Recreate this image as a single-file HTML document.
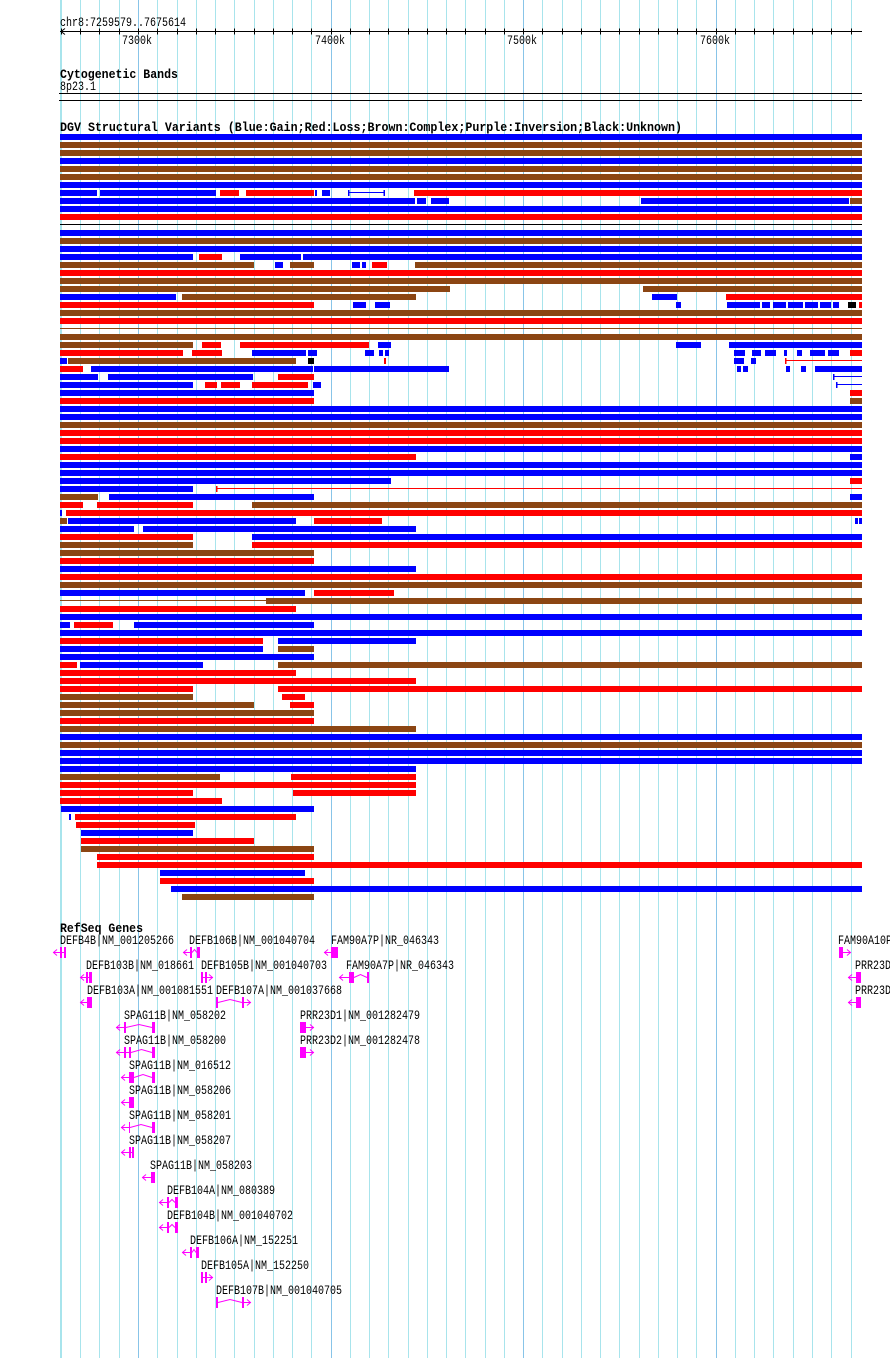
<!DOCTYPE html>
<html><head><meta charset="utf-8"><style>
html,body{margin:0;padding:0;background:#fff;}
svg{display:block;}
text{font-family:"Liberation Mono","DejaVu Sans Mono",monospace;fill:#000;}
</style></head><body>
<svg id="s" width="890" height="1358" xmlns="http://www.w3.org/2000/svg">
<g id="grid"></g>
<g id="ruler">
<text x="60" y="26" font-size="13" textLength="126" lengthAdjust="spacingAndGlyphs">chr8:7259579..7675614</text>
<line x1="60" y1="31.5" x2="862" y2="31.5" stroke="#000" stroke-width="1"/>
<polyline points="65,28.5 61,31.5 65,34.5" fill="none" stroke="#000" stroke-width="1"/>
<text x="122" y="44" font-size="13" textLength="30" lengthAdjust="spacingAndGlyphs">7300k</text>
<text x="315" y="44" font-size="13" textLength="30" lengthAdjust="spacingAndGlyphs">7400k</text>
<text x="507" y="44" font-size="13" textLength="30" lengthAdjust="spacingAndGlyphs">7500k</text>
<text x="700" y="44" font-size="13" textLength="30" lengthAdjust="spacingAndGlyphs">7600k</text>
<text x="60" y="78" font-size="13" font-weight="bold" textLength="118" lengthAdjust="spacingAndGlyphs">Cytogenetic Bands</text>
<text x="60" y="90" font-size="13" textLength="36" lengthAdjust="spacingAndGlyphs">8p23.1</text>
<line x1="59" y1="93.5" x2="862" y2="93.5" stroke="#000"/>
<line x1="59" y1="100.5" x2="862" y2="100.5" stroke="#000"/>
<text x="60" y="131" font-size="13" font-weight="bold" textLength="622" lengthAdjust="spacingAndGlyphs">DGV Structural Variants (Blue:Gain;Red:Loss;Brown:Complex;Purple:Inversion;Black:Unknown)</text>
<text x="60" y="932" font-size="13" font-weight="bold" textLength="83" lengthAdjust="spacingAndGlyphs">RefSeq Genes</text>
</g>
<g id="bars"></g>
<g id="genes"></g>
</svg>
<script>
var NS="http://www.w3.org/2000/svg";
function el(p,t,a){var e=document.createElementNS(NS,t);for(var k in a)e.setAttribute(k,a[k]);p.appendChild(e);return e;}
var grid=document.getElementById('grid');
el(grid,'line',{x1:60.5,y1:0,x2:60.5,y2:1358,stroke:'#a8e4ec'});
for(var k=0;k<=41;k++){var x=Math.round(60.97+19.257*k)+0.5;
 var dark=(k==4||k==14||k==24||k==34);
 el(grid,'line',{x1:x,y1:0,x2:x,y2:1358,stroke:dark?'#88c4e8':'#a8e4ec'});
 el(document.getElementById('ruler'),'line',{x1:x,y1:28.5,x2:x,y2:34.5,stroke:'#000'});}
var C={b:'#0000ff',r:'#ff0000',n:'#8b4513',k:'#000000'};
var F=862;
var rows=[
[[60,F,'b']],[[60,F,'n']],[[60,F,'n']],[[60,F,'b']],[[60,F,'n']],[[60,F,'n']],[[60,F,'b']],
[[60,97,'b'],[100,216,'b'],[220,239,'r'],[246,314,'r'],[315,317,'b'],[322,330,'b'],[348,385,'lb'],[414,F,'r']],
[[60,415,'b'],[417,426,'b'],[431,449,'b'],[641,849,'b'],[850,F,'n']],
[[60,F,'b']],[[60,F,'r']],[[60,F,'lk']],[[60,F,'b']],[[60,F,'n']],[[60,F,'b']],
[[60,193,'b'],[199,222,'r'],[240,301,'b'],[303,F,'b']],
[[60,254,'n'],[275,283,'b'],[290,314,'n'],[352,360,'b'],[362,366,'b'],[372,387,'r'],[415,F,'n']],
[[60,F,'r']],[[60,F,'n']],
[[60,450,'n'],[643,F,'n']],
[[60,176,'b'],[182,416,'n'],[652,677,'b'],[726,F,'r']],
[[60,314,'r'],[353,366,'b'],[375,390,'b'],[676,681,'b'],[727,760,'b'],[762,770,'b'],[773,786,'b'],[788,803,'b'],[805,818,'b'],[820,831,'b'],[833,839,'b'],[848,856,'k'],[859,F,'r']],
[[60,F,'n']],[[60,F,'r']],[[60,F,'ln']],[[60,F,'n']],
[[60,193,'n'],[202,221,'r'],[240,369,'r'],[378,391,'b'],[676,701,'b'],[729,F,'b']],
[[60,183,'r'],[192,222,'r'],[252,306,'b'],[308,317,'b'],[365,374,'b'],[379,383,'b'],[385,389,'b'],[734,745,'b'],[752,761,'b'],[765,776,'b'],[784,787,'b'],[797,802,'b'],[810,825,'b'],[828,839,'b'],[850,F,'r']],
[[60,67,'b'],[68,296,'n'],[308,314,'k'],[384,386,'r'],[734,744,'b'],[751,756,'b'],[785,F,'lr']],
[[60,83,'r'],[91,313,'b'],[314,449,'b'],[737,741,'b'],[743,748,'b'],[786,790,'b'],[801,806,'b'],[815,F,'b']],
[[60,98,'b'],[108,253,'b'],[278,314,'r'],[833,F,'lb']],
[[60,193,'b'],[205,217,'r'],[221,240,'r'],[252,308,'r'],[313,321,'b'],[836,F,'lb']],
[[60,314,'b'],[850,F,'r']],
[[60,314,'r'],[850,F,'n']],
[[60,F,'b']],[[60,F,'b']],[[60,F,'n']],[[60,F,'r']],[[60,F,'r']],[[60,F,'b']],
[[60,416,'r'],[850,F,'b']],
[[60,F,'b']],[[60,F,'b']],
[[60,391,'b'],[850,F,'r']],
[[60,193,'b'],[216,F,'lr']],
[[60,98,'n'],[109,314,'b'],[850,F,'b']],
[[60,83,'r'],[97,193,'r'],[252,F,'n']],
[[60,62,'b'],[66,F,'r']],
[[60,67,'n'],[68,296,'b'],[314,382,'r'],[855,858,'b'],[859,F,'b']],
[[60,134,'b'],[143,416,'b']],
[[60,193,'r'],[252,F,'b']],
[[60,193,'n'],[252,F,'r']],
[[60,314,'n']],[[60,314,'r']],[[60,416,'b']],[[60,F,'r']],[[60,F,'n']],
[[60,305,'b'],[314,394,'r']],
[[60,266,'ln'],[266,F,'n']],
[[60,296,'r']],[[60,F,'b']],
[[60,70,'b'],[74,113,'r'],[134,314,'b']],
[[60,F,'b']],
[[60,263,'r'],[278,416,'b']],
[[60,263,'b'],[278,314,'n']],
[[60,314,'b']],
[[60,77,'r'],[80,203,'b'],[278,F,'n']],
[[60,296,'r']],[[60,416,'r']],
[[60,193,'r'],[278,F,'r']],
[[60,193,'n'],[282,305,'r']],
[[60,254,'n'],[290,314,'r']],
[[60,314,'n']],[[60,314,'r']],[[60,416,'n']],
[[60,F,'b']],[[60,F,'n']],[[60,F,'b']],[[60,F,'b']],
[[60,416,'b']],
[[60,220,'n'],[291,416,'r']],
[[60,416,'r']],
[[60,193,'r'],[293,416,'r']],
[[60,222,'r']],
[[61,314,'b']],
[[69,71,'b'],[75,296,'r']],
[[76,195,'r']],[[81,193,'b']],[[81,254,'r']],[[81,314,'n']],
[[97,314,'r']],[[97,F,'r']],
[[160,305,'b']],[[160,314,'r']],[[171,F,'b']],[[182,314,'n']]
];
var bars=document.getElementById('bars');
rows.forEach(function(r,i){var y=134+8*i;
 r.forEach(function(s){var t=s[2];
  if(t[0]=='l'){var c=C[t[1]];
   el(bars,'rect',{x:s[0],y:y+2,width:s[1]-s[0],height:1,fill:c});
   if(t!='lk'&&t!='ln'){el(bars,'rect',{x:s[0],y:y,width:1.5,height:6,fill:c});
    if(s[1]<F)el(bars,'rect',{x:s[1]-1.5,y:y,width:1.5,height:6,fill:c});}
  } else el(bars,'rect',{x:s[0],y:y,width:s[1]-s[0],height:6,fill:C[t]});
 });});
var M='#ff00ff';
var G=document.getElementById('genes');
function gene(row,lx,label,parts){
 var by=944+25*row, cy=952+25*row, top=947+25*row;
 var t=el(G,'text',{x:lx,y:by,'font-size':13,textLength:label.length*6,lengthAdjust:'spacingAndGlyphs'});t.textContent=label;
 parts.forEach(function(p){
  if(p[0]=='e')el(G,'rect',{x:p[1],y:top,width:p[2]-p[1],height:11,fill:M});
  else if(p[0]=='l')el(G,'line',{x1:p[1],y1:cy+0.5,x2:p[2],y2:cy+0.5,stroke:M});
  else if(p[0]=='c'){var m=(p[1]+p[2])/2;el(G,'polyline',{points:p[1]+','+(cy+0.5)+' '+m+','+(cy-2.5)+' '+p[2]+','+(cy+0.5),fill:'none',stroke:M});}
  else if(p[0]=='L'){el(G,'line',{x1:p[1],y1:cy+0.5,x2:p[2],y2:cy+0.5,stroke:M});
   el(G,'polyline',{points:(p[1]+4)+','+(cy-2.5)+' '+(p[1]+0.5)+','+(cy+0.5)+' '+(p[1]+4)+','+(cy+3.5),fill:'none',stroke:M});}
  else if(p[0]=='R'){el(G,'line',{x1:p[1],y1:cy+0.5,x2:p[2],y2:cy+0.5,stroke:M});
   el(G,'polyline',{points:(p[2]-4)+','+(cy-2.5)+' '+(p[2]-0.5)+','+(cy+0.5)+' '+(p[2]-4)+','+(cy+3.5),fill:'none',stroke:M});}
 });}
gene(0,60,'DEFB4B|NM_001205266',[['L',53,60],['e',60,62],['l',62,64],['e',64,66]]);
gene(0,189,'DEFB106B|NM_001040704',[['L',183,190],['e',190,192],['c',192,197],['e',197,200]]);
gene(0,331,'FAM90A7P|NR_046343',[['L',324,331],['e',331,338]]);
gene(0,838,'FAM90A10P',[['e',839,843],['R',843,851]]);
gene(1,86,'DEFB103B|NM_018661',[['L',80,86],['e',86,88],['l',88,89],['e',89,92]]);
gene(1,201,'DEFB105B|NM_001040703',[['e',201,203],['l',203,205],['e',205,207],['R',207,213]]);
gene(1,346,'FAM90A7P|NR_046343',[['L',339,349],['e',349,354],['c',354,367],['e',367,369]]);
gene(1,855,'PRR23D',[['L',848,856],['e',856,861]]);
gene(2,87,'DEFB103A|NM_001081551',[['L',80,87],['e',87,92]]);
gene(2,216,'DEFB107A|NM_001037668',[['e',216,218],['c',218,242],['e',242,244],['R',244,251]]);
gene(2,855,'PRR23D',[['L',848,856],['e',856,861]]);
gene(3,124,'SPAG11B|NM_058202',[['L',116,124],['e',124,126],['c',126,152],['e',152,155]]);
gene(3,300,'PRR23D1|NM_001282479',[['e',300,306],['R',306,314]]);
gene(4,124,'SPAG11B|NM_058200',[['L',116,124],['e',124,126],['l',126,129],['e',129,131],['c',131,152],['e',152,155]]);
gene(4,300,'PRR23D2|NM_001282478',[['e',300,306],['R',306,314]]);
gene(5,129,'SPAG11B|NM_016512',[['L',121,129],['e',129,134],['c',134,152],['e',152,155]]);
gene(6,129,'SPAG11B|NM_058206',[['L',121,129],['e',129,134]]);
gene(7,129,'SPAG11B|NM_058201',[['L',121,129],['e',129,130],['c',130,152],['e',152,155]]);
gene(8,129,'SPAG11B|NM_058207',[['L',121,129],['e',129,131],['l',131,132],['e',132,134]]);
gene(9,150,'SPAG11B|NM_058203',[['L',142,151],['e',151,155]]);
gene(10,167,'DEFB104A|NM_080389',[['L',159,167],['e',167,169],['c',169,175],['e',175,178]]);
gene(11,167,'DEFB104B|NM_001040702',[['L',159,167],['e',167,169],['c',169,175],['e',175,178]]);
gene(12,190,'DEFB106A|NM_152251',[['L',182,190],['e',190,192],['c',192,196],['e',196,199]]);
gene(13,201,'DEFB105A|NM_152250',[['e',201,203],['l',203,205],['e',205,207],['R',207,213]]);
gene(14,216,'DEFB107B|NM_001040705',[['e',216,218],['c',218,242],['e',242,244],['R',244,251]]);
</script>
</body></html>
